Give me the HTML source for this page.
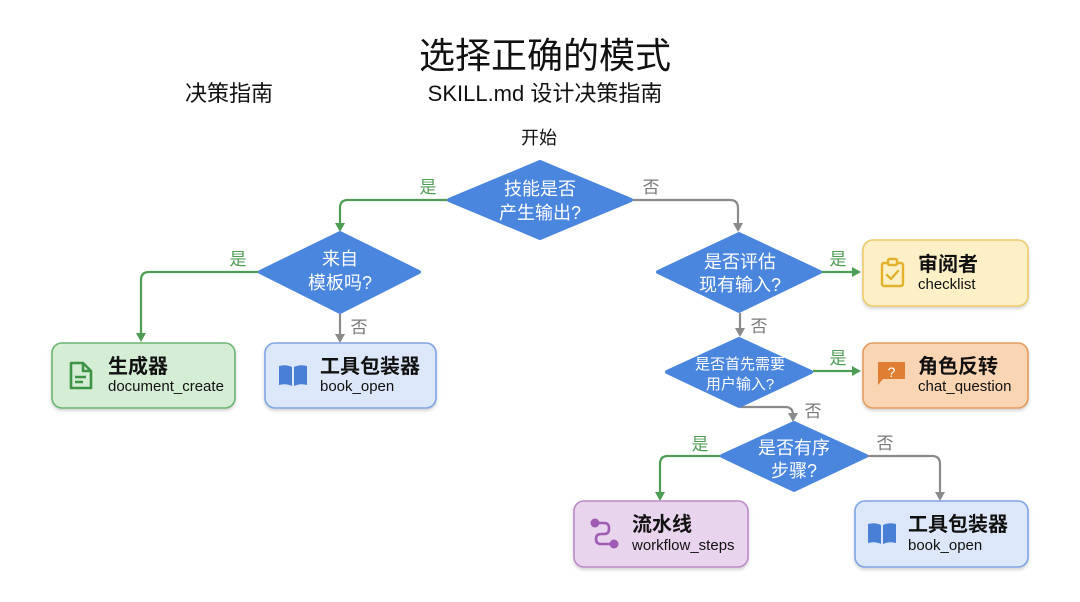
<!DOCTYPE html>
<html>
<head>
<meta charset="utf-8">
<style>
  html,body{margin:0;padding:0;background:#ffffff;}
  body{width:1080px;height:602px;overflow:hidden;}
  svg{display:block;}
  text{font-family:"Liberation Sans","Noto Sans CJK SC",sans-serif;}
</style>
</head>
<body>
<svg width="1080" height="602" viewBox="0 0 1080 602" xmlns="http://www.w3.org/2000/svg">
  <defs>
    <filter id="sh" x="-10%" y="-10%" width="120%" height="130%">
      <feDropShadow dx="0" dy="2" stdDeviation="1.5" flood-color="#000" flood-opacity="0.18"/>
    </filter>
  </defs>

  <!-- Titles -->
  <text x="545" y="68" font-size="36" text-anchor="middle" fill="#111">选择正确的模式</text>
  <text x="229" y="101" font-size="22" text-anchor="middle" fill="#111">决策指南</text>
  <text x="545" y="101" font-size="22" text-anchor="middle" fill="#111">SKILL.md 设计决策指南</text>
  <text x="539" y="144" font-size="18" text-anchor="middle" fill="#111">开始</text>

  <!-- Connectors -->
  <g fill="none" stroke-width="2.2">
    <path d="M447,200 H348 Q340,200 340,208 V224" stroke="#4f9d55"/>
    <path d="M633,200 H730 Q738,200 738,208 V224" stroke="#8a8a8a"/>
    <path d="M258,272 H149 Q141,272 141,280 V334" stroke="#4f9d55"/>
    <path d="M340,314 V335" stroke="#8a8a8a"/>
    <path d="M822,272 H853" stroke="#4f9d55"/>
    <path d="M740,313 V329" stroke="#8a8a8a"/>
    <path d="M813,371 H853" stroke="#4f9d55"/>
    <path d="M740,407 H785 Q793,407 793,415 V414" stroke="#8a8a8a"/>
    <path d="M720,456 H668 Q660,456 660,464 V493" stroke="#4f9d55"/>
    <path d="M868,456 H932 Q940,456 940,464 V493" stroke="#8a8a8a"/>
  </g>
  <!-- Arrowheads -->
  <g>
    <path d="M335,223 L345,223 L340,232 Z" fill="#4f9d55"/>
    <path d="M733,223 L743,223 L738,232 Z" fill="#8a8a8a"/>
    <path d="M136,333 L146,333 L141,342 Z" fill="#4f9d55"/>
    <path d="M335,334 L345,334 L340,343 Z" fill="#8a8a8a"/>
    <path d="M852,267 L852,277 L861,272 Z" fill="#4f9d55"/>
    <path d="M735,328 L745,328 L740,337 Z" fill="#8a8a8a"/>
    <path d="M852,366 L852,376 L861,371 Z" fill="#4f9d55"/>
    <path d="M788,413 L798,413 L793,422 Z" fill="#8a8a8a"/>
    <path d="M655,492 L665,492 L660,501 Z" fill="#4f9d55"/>
    <path d="M935,492 L945,492 L940,501 Z" fill="#8a8a8a"/>
  </g>

  <!-- Edge labels -->
  <g font-size="17" text-anchor="middle">
    <text x="428" y="193" fill="#4f9d55">是</text>
    <text x="651" y="193" fill="#7a7a7a">否</text>
    <text x="238" y="265" fill="#4f9d55">是</text>
    <text x="359" y="333" fill="#7a7a7a">否</text>
    <text x="838" y="265" fill="#4f9d55">是</text>
    <text x="759" y="332" fill="#7a7a7a">否</text>
    <text x="838" y="364" fill="#4f9d55">是</text>
    <text x="813" y="417" fill="#7a7a7a">否</text>
    <text x="700" y="450" fill="#4f9d55">是</text>
    <text x="885" y="449" fill="#7a7a7a">否</text>
  </g>

  <!-- Diamonds -->
  <g fill="#4a85de" stroke="#4a85de" stroke-width="4" stroke-linejoin="round">
    <path d="M540,162 L631,200 L540,238 L449,200 Z"/>
    <path d="M340,233 L419,272 L340,312 L260,272 Z"/>
    <path d="M739,234 L820,272 L739,311 L658,272 Z"/>
    <path d="M739,339 L811,372 L739,406 L667,372 Z"/>
    <path d="M794,423 L866,456 L794,490 L722,456 Z"/>
  </g>
  <g fill="#ffffff" text-anchor="middle">
    <text x="540" y="195" font-size="18">技能是否</text>
    <text x="540" y="219" font-size="18">产生输出?</text>
    <text x="340" y="265" font-size="18">来自</text>
    <text x="340" y="289" font-size="18">模板吗?</text>
    <text x="740" y="268" font-size="18">是否评估</text>
    <text x="740" y="291" font-size="18">现有输入?</text>
    <text x="740" y="369" font-size="15">是否首先需要</text>
    <text x="740" y="389" font-size="15">用户输入?</text>
    <text x="794" y="454" font-size="18">是否有序</text>
    <text x="794" y="477" font-size="18">步骤?</text>
  </g>

  <!-- Boxes -->
  <g filter="url(#sh)" stroke-width="1.6">
    <rect x="52" y="343" width="183" height="65" rx="10" fill="#d5edd5" stroke="#6cb571"/>
    <rect x="265" y="343" width="171" height="65" rx="10" fill="#dce7f9" stroke="#7fa4e4"/>
    <rect x="863" y="240" width="165" height="66" rx="10" fill="#fdf0c6" stroke="#ebca6a"/>
    <rect x="863" y="343" width="165" height="65" rx="10" fill="#fad5b3" stroke="#e39c60"/>
    <rect x="574" y="501" width="174" height="66" rx="10" fill="#e9d4ed" stroke="#bd8ac8"/>
    <rect x="855" y="501" width="173" height="66" rx="10" fill="#dce7f9" stroke="#7fa4e4"/>
  </g>

  <!-- Icons -->
  <!-- document -->
  <g fill="none" stroke="#3d9445" stroke-width="2.6" stroke-linejoin="round">
    <path d="M71,363 H83 L91,371 V388 H71 Z"/>
    <path d="M83,363 V371 H91"/>
    <path d="M75,377 H86 M75,382 H83"/>
  </g>
  <!-- book left -->
  <g fill="#4a7fd6">
    <path d="M279,366 Q286,364 292,367 V386 Q286,383 279,385 Z"/>
    <path d="M294,367 Q300,364 307,366 V385 Q300,383 294,386 Z"/>
  </g>
  <!-- book right -->
  <g fill="#4a7fd6">
    <path d="M868,524 Q875,522 881,525 V544 Q875,541 868,543 Z"/>
    <path d="M883,525 Q889,522 896,524 V543 Q889,541 883,544 Z"/>
  </g>
  <!-- clipboard -->
  <g fill="none" stroke="#e2b22d" stroke-width="2.4" stroke-linejoin="round" stroke-linecap="round">
    <rect x="882" y="263" width="21" height="23" rx="2"/>
    <rect x="888" y="259" width="9" height="6" rx="1.5" fill="#fdf0c6"/>
    <path d="M887,275 L891,279 L898,271"/>
  </g>
  <!-- chat question -->
  <path d="M878,362 H905 V379 H883 L878,385 Z" fill="#e07f33"/>
  <text x="891.5" y="377" font-size="14" text-anchor="middle" fill="#fff">?</text>
  <!-- workflow -->
  <g fill="#a05cb5" stroke="#a05cb5">
    <circle cx="595" cy="523" r="4.5" stroke="none"/>
    <circle cx="614" cy="544" r="4.5" stroke="none"/>
    <path d="M595,523 H604 Q609,523 609,528 V529 Q609,534 604,534 H601 Q596,534 596,539 Q596,544 601,544 H614" fill="none" stroke-width="2.6"/>
  </g>

  <!-- Box texts -->
  <g fill="#111">
    <text x="108" y="373" font-size="20" font-weight="bold">生成器</text>
    <text x="108" y="391" font-size="15">document_create</text>
    <text x="320" y="373" font-size="20" font-weight="bold">工具包装器</text>
    <text x="320" y="391" font-size="15">book_open</text>
    <text x="918" y="271" font-size="20" font-weight="bold">审阅者</text>
    <text x="918" y="289" font-size="15">checklist</text>
    <text x="918" y="373" font-size="20" font-weight="bold">角色反转</text>
    <text x="918" y="391" font-size="15">chat_question</text>
    <text x="632" y="531" font-size="20" font-weight="bold">流水线</text>
    <text x="632" y="550" font-size="15">workflow_steps</text>
    <text x="908" y="531" font-size="20" font-weight="bold">工具包装器</text>
    <text x="908" y="550" font-size="15">book_open</text>
  </g>
</svg>
</body>
</html>
